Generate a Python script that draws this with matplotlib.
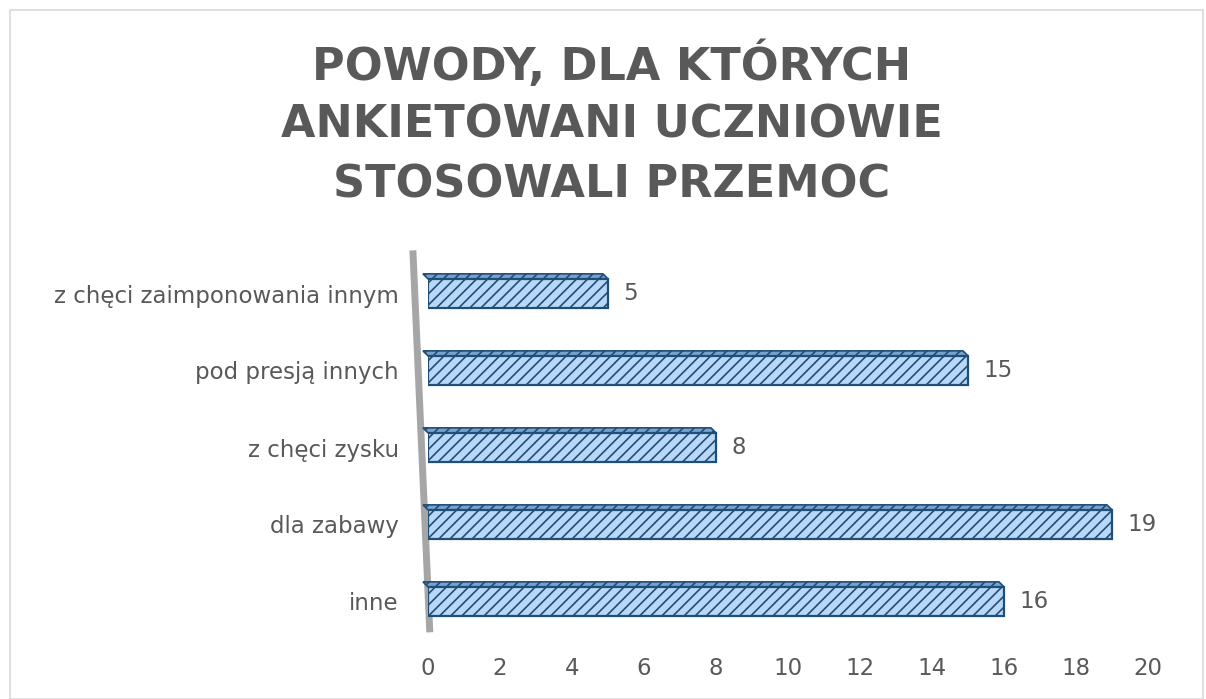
import matplotlib
matplotlib.use("Agg")
import matplotlib.pyplot as plt
from matplotlib.patches import Polygon, Rectangle
from matplotlib.lines import Line2D

categories = ["inne", "dla zabawy", "z chęci zysku", "pod presją innych", "z chęci zaimponowania innym"]
values = [16, 19, 8, 15, 5]
xticks = [0, 2, 4, 6, 8, 10, 12, 14, 16, 18, 20]
title_lines = ["POWODY, DLA KTÓRYCH", "ANKIETOWANI UCZNIOWIE", "STOSOWALI PRZEMOC"]

plt.rcParams['font.family'] = ['DejaVu Sans']
edge = "#1f4e79"
plt.rcParams['hatch.color'] = edge
plt.rcParams['hatch.linewidth'] = 1.2

W, H = 1206, 699
fig = plt.figure(figsize=(W/100, H/100), dpi=100)
fig.patch.set_facecolor("white")

# chart border
fig.add_artist(Rectangle((10/W, 0), (W-13)/W, (H-10)/H, transform=fig.transFigure,
                         fill=False, edgecolor="#d9d9d9", linewidth=1.2))

ax = fig.add_axes([428/W, 1-640/H, (1148-428)/W, (640-255)/H])
ax.set_xlim(0, 20)
ax.set_ylim(-0.5, 4.5)

# gray wall
wall = Line2D([-0.42, 0.05], [4.56, -0.4], color="#a6a6a6", linewidth=5, zorder=1,
              clip_on=False, solid_capstyle="butt")
ax.add_line(wall)

bh = 0.38
face = "#b9d8f7"
bars = ax.barh(range(len(values)), values, height=bh, color=face, edgecolor=edge,
               hatch="///", linewidth=1.6, zorder=3)
# 3D top faces
for i, v in enumerate(values):
    y0 = i + bh/2
    dx, dy = -0.14, 0.065
    top = Polygon([(0, y0), (v, y0), (v + dx, y0 + dy), (0 + dx, y0 + dy)],
                  closed=True, facecolor="#7aa0cc", edgecolor=edge, linewidth=1.2,
                  hatch="///", zorder=2, clip_on=False)
    ax.add_patch(top)
    ax.annotate(str(v), (v, i), xytext=(11, 0), textcoords="offset points",
                va="center", ha="left", fontsize=16.5, color="#595959")

ax.set_yticks(range(len(categories)))
ax.set_yticklabels(categories, fontsize=16.5, color="#595959")
ax.set_xticks(xticks)
ax.set_xticklabels([str(t) for t in xticks], fontsize=16.5, color="#595959")
ax.tick_params(axis="both", length=0)
ax.tick_params(axis="x", pad=12)
ax.tick_params(axis="y", pad=21)
for s in ax.spines.values():
    s.set_visible(False)

for k, line in enumerate(title_lines):
    fig.text(612/W, 1 - (65 + 60*k)/H, line, ha="center", va="center",
             fontsize=32, fontweight="bold", color="#595959")

fig.savefig("out.png", dpi=100, facecolor="white")
